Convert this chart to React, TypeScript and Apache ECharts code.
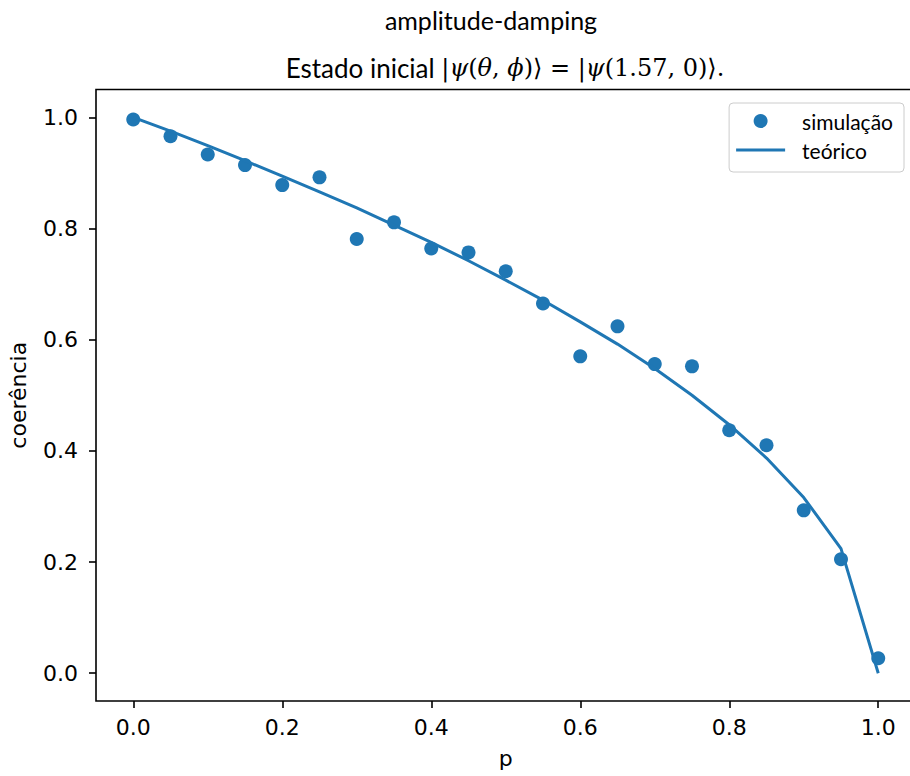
import React, { useEffect, useRef } from "react";
import * as echarts from "echarts";

const pValues = [0, 0.05, 0.1, 0.15, 0.2, 0.25, 0.3, 0.35, 0.4, 0.45, 0.5, 0.55, 0.6, 0.65, 0.7, 0.75, 0.8, 0.85, 0.9, 0.95, 1.0];
const simulacao = [0.996, 0.966, 0.933, 0.914, 0.878, 0.892, 0.781, 0.811, 0.764, 0.757, 0.723, 0.665, 0.57, 0.624, 0.556, 0.552, 0.437, 0.41, 0.293, 0.205, 0.027];
const teorico = [1.0, 0.975, 0.949, 0.922, 0.894, 0.866, 0.837, 0.806, 0.775, 0.742, 0.707, 0.671, 0.632, 0.592, 0.548, 0.5, 0.447, 0.387, 0.316, 0.224, 0.0];
const xTicks = [0, 0.2, 0.4, 0.6, 0.8, 1.0];
const yTicks = [0, 0.2, 0.4, 0.6, 0.8, 1.0];

const suptitle = "amplitude-damping";
const titleText = "Estado inicial ";

const BLUE = "#1f77b4";
const TICK_FONT = "DejaVu Sans";
const CM_FONT = "Lato";

export default function App() {
  const ref = useRef<HTMLDivElement>(null);
  useEffect(() => {
    if (!ref.current) return;
    const chart = echarts.init(ref.current, undefined, { renderer: "svg" });
    const option: any = {
      animation: false,
      backgroundColor: "#fff",
      grid: {
        left: 96,
        right: -5.5,
        top: 89.5,
        bottom: 75,
        show: true,
        borderColor: "#000",
        borderWidth: 1.6,
        backgroundColor: "transparent",
        containLabel: false,
        outerBoundsMode: "none",
      },
      graphic: [
        {
          type: "text",
          x: 491,
          y: 20,
          style: {
            text: suptitle,
            fontFamily: CM_FONT,
            fontSize: 25,
            fill: "#000",
            textAlign: "center",
            textVerticalAlign: "middle",
          },
        },
        {
          type: "text",
          x: 505,
          y: 68,
          style: {
            text:
              "{a|" + titleText + "}{r||}{g|ψ}{r|(}{g|θ}{r|, }{g|ϕ}{r|)⟩ = |}{g|ψ}{r|(1.57, 0)⟩.}",
            textAlign: "center",
            textVerticalAlign: "middle",
            rich: {
              a: { fontFamily: CM_FONT, fontSize: 26, fill: "#000" },
              r: { fontFamily: "DejaVu Serif", fontSize: 24, fill: "#000" },
              g: { fontFamily: "DejaVu Serif", fontStyle: "italic", fontSize: 24, fill: "#000" },
            },
          },
        },
      ],
      legend: {
        orient: "vertical",
        right: 6,
        top: 103,
        data: [
          { name: "simulação", icon: "circle" },
          { name: "teórico", icon: "path://M0,0H49V3H0Z" },
        ],
        itemWidth: 49,
        itemHeight: 14,
        itemGap: 7,
        symbolKeepAspect: true,
        backgroundColor: "rgba(255,255,255,0.8)",
        borderColor: "#cccccc",
        borderWidth: 1,
        borderRadius: 4,
        padding: [7, 11, 11, 7],
        textStyle: { fontFamily: CM_FONT, fontSize: 21, lineHeight: 22, color: "#000", padding: [0, 0, 0, 12] },
      },
      xAxis: {
        type: "value",
        min: -0.05,
        max: 1.05,
        name: "p",
        nameLocation: "middle",
        nameGap: 46,
        nameTextStyle: { fontFamily: TICK_FONT, fontSize: 22, color: "#000" },
        axisLine: { show: false, onZero: false },
        splitLine: { show: false },
        axisTick: { show: true, length: 7, lineStyle: { color: "#000", width: 1.6 }, customValues: xTicks },
        axisLabel: {
          fontFamily: TICK_FONT,
          fontSize: 22,
          color: "#000",
          margin: 15,
          customValues: xTicks,
          formatter: (v: number) => v.toFixed(1),
        },
      },
      yAxis: {
        type: "value",
        min: -0.05,
        max: 1.05,
        name: "coerência",
        nameLocation: "middle",
        nameGap: 67,
        nameTextStyle: { fontFamily: TICK_FONT, fontSize: 22, color: "#000" },
        axisLine: { show: false, onZero: false },
        splitLine: { show: false },
        axisTick: { show: true, length: 7, lineStyle: { color: "#000", width: 1.6 }, customValues: yTicks },
        axisLabel: {
          fontFamily: TICK_FONT,
          fontSize: 22,
          color: "#000",
          margin: 18,
          customValues: yTicks,
          formatter: (v: number) => v.toFixed(1),
        },
      },
      series: [
        {
          name: "simulação",
          type: "scatter",
          symbol: "circle",
          symbolSize: 14,
          itemStyle: { color: BLUE, opacity: 1 },
          data: pValues.map((p, i) => [p, simulacao[i]]),
          z: 2,
        },
        {
          name: "teórico",
          type: "line",
          symbol: "none",
          showSymbol: false,
          lineStyle: { color: BLUE, width: 3 },
          itemStyle: { color: BLUE },
          data: pValues.map((p, i) => [p, teorico[i]]),
          z: 3,
        },
      ],
    };
    chart.setOption(option);
    return () => chart.dispose();
  }, []);
  return (
    <div
      ref={ref}
      style={{ position: "fixed", left: 0, top: 0, width: 910, height: 776, background: "#fff" }}
    />
  );
}
